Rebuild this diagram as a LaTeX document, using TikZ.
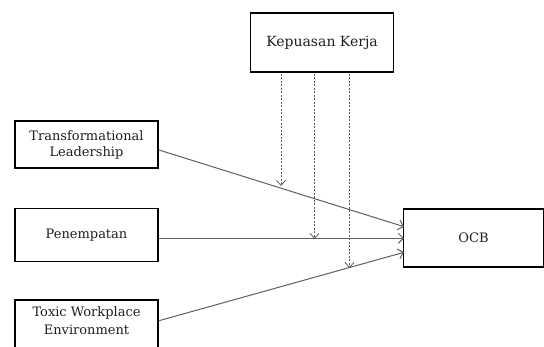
\documentclass[tikz,border=0pt]{standalone}
\usepackage{fontspec}
\setmainfont{DejaVu Serif}
\usetikzlibrary{arrows.meta}
\definecolor{linegray}{RGB}{95,95,95}
\definecolor{textgray}{RGB}{30,30,30}
\begin{document}
\begin{tikzpicture}[x=1pt,y=-1pt,
  box/.style={draw=black, line width=1.6pt, inner sep=0pt, text=textgray,
    font=\fontsize{13}{16}\selectfont, align=center},
  path/.style={draw=linegray, line width=1pt, -{Straight Barb[length=5pt,width=10pt]}},
  mod/.style={draw=linegray, line width=0.8pt, dash pattern=on 2pt off 1.5pt,
    -{Straight Barb[length=5pt,width=9pt]}}]
\useasboundingbox (0,0) rectangle (544,347);
\clip (0,0) rectangle (544,347);
\node[box, minimum width=143pt, minimum height=59pt, font=\fontsize{14}{16}\selectfont] (kk) at (322,42.5) {Kepuasan Kerja};
\node[box, minimum width=143pt, minimum height=47pt] (tl) at (86.5,144.5) {Transformational\\Leadership};
\node[box, minimum width=143pt, minimum height=53pt] (pe) at (86.5,235) {Penempatan};
\node[box, minimum width=143pt, minimum height=60pt, anchor=north, font=\fontsize{13}{18}\selectfont] (tw) at (86.5,299) {Toxic Workplace\\Environment\\ \mbox{}};
\node[box, minimum width=140pt, minimum height=58pt] (ocb) at (473.5,238) {OCB};
\coordinate (o1) at (404,226.7);
\coordinate (o2) at (404,238.3);
\coordinate (o3) at (404,252.3);
\coordinate (s1) at (159,150);
\coordinate (s2) at (159,238.3);
\coordinate (s3) at (159,320.7);
\draw[path] (s1) -- (o1);
\draw[path] (s2) -- (o2);
\draw[path] (s3) -- (o3);
\coordinate (d1) at (281,74);
\coordinate (d2) at (314.5,74);
\coordinate (d3) at (349.5,74);
\coordinate (e1) at (281,186);
\coordinate (e2) at (314.5,239);
\coordinate (e3) at (349.5,268);
\draw[mod] (d1) -- (e1);
\draw[mod] (d2) -- (e2);
\draw[mod] (d3) -- (e3);
\end{tikzpicture}
\end{document}
